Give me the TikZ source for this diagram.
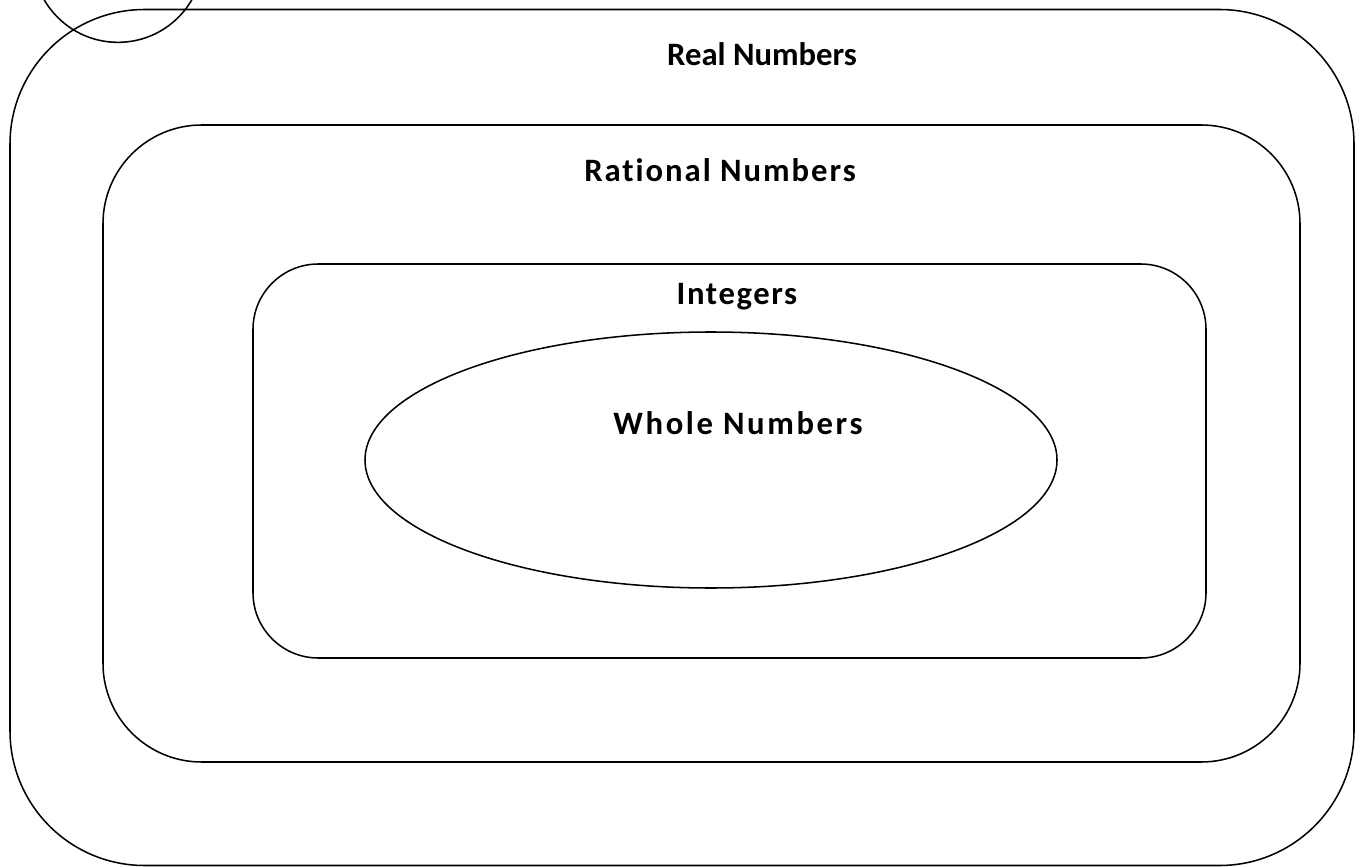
\documentclass[tikz,border=0pt]{standalone}
\usepackage{fontspec}
\setmainfont{Carlito}
\usetikzlibrary{shapes.geometric}
\begin{document}
\begin{tikzpicture}[x=0.75pt,y=-0.75pt,
  setbox/.style={draw=black,line width=1.15pt,inner sep=0pt,outer sep=0pt},
  lbl/.style={font=\bfseries\fontsize{24.5}{28}\selectfont\addfontfeature{Ligatures=NoCommon},inner sep=0pt}]
\useasboundingbox (0,0) rectangle (1361,867);
\clip (0,0) rectangle (1361,867);
\node[setbox,rounded corners=101pt,minimum width=1008pt,minimum height=642pt] (real) at (682,437.5) {};
\node[setbox,rounded corners=74pt,minimum width=897.75pt,minimum height=477.75pt] (rational) at (701.5,443.5) {};
\node[setbox,rounded corners=49pt,minimum width=714.75pt,minimum height=295.5pt] (integers) at (729.5,461) {};
\node[setbox,ellipse,minimum width=519pt,minimum height=192pt] (whole) at (711,460) {};
\node[setbox,circle,minimum size=128pt] (circ) at (118,-43) {};
\node[lbl] (lreal) at (762,54) {Real Numbers};
\node[lbl] (lrational) at (720,170) {\addfontfeature{LetterSpace=6}Rational Numbers};
\node[lbl] (lint) at (737,297) {\addfontfeature{LetterSpace=5}Integers};
\node[lbl] (lwhole) at (738,423) {\addfontfeature{LetterSpace=8}Whole Numbers};
\end{tikzpicture}
\end{document}
